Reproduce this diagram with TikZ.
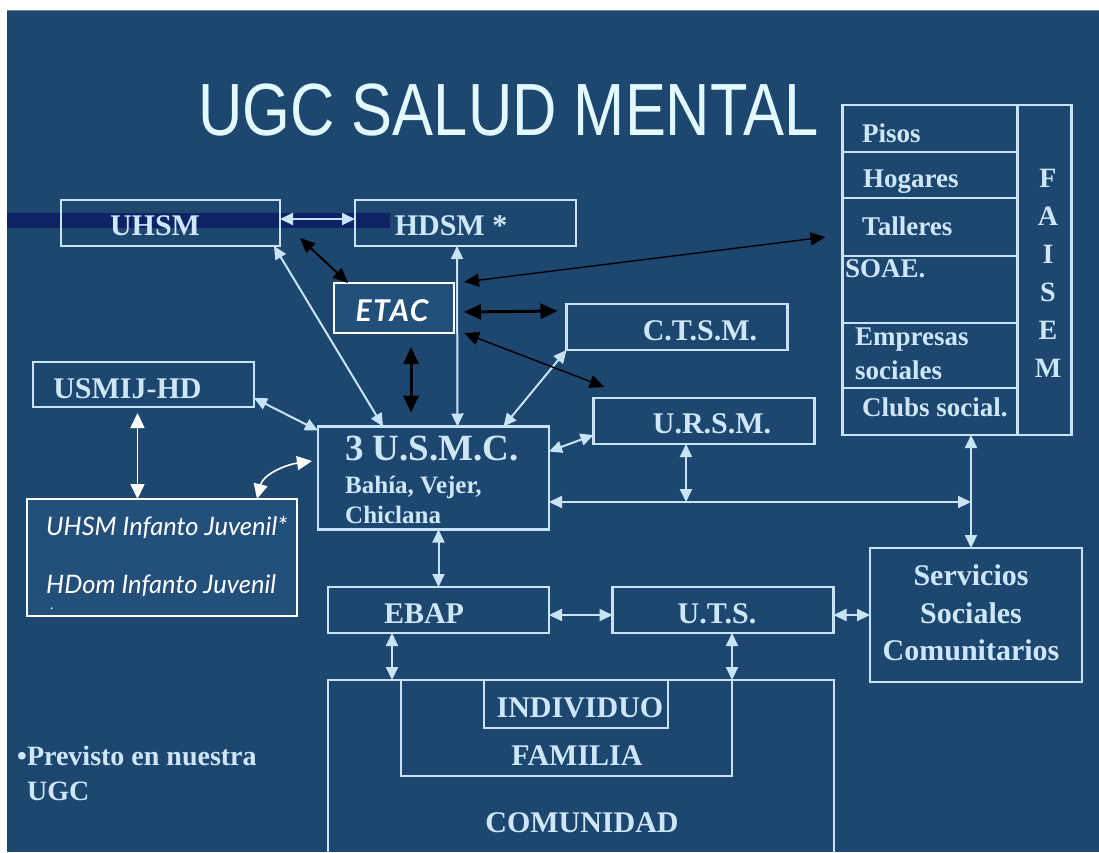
\documentclass[tikz,border=0pt]{standalone}
\usepackage{fontspec}
\setmainfont{Liberation Serif}
\newfontfamily\titlefont{Liberation Sans}[FakeStretch=0.83]
\newfontfamily\gillfont{Lato}
\usetikzlibrary{arrows.meta, positioning}

\definecolor{bgblue}{RGB}{30,71,112}
\definecolor{bandblue}{RGB}{14,34,102}
\definecolor{lineblue}{RGB}{198,228,246}
\definecolor{txtblue}{RGB}{205,231,248}
\definecolor{boxfill}{RGB}{35,79,123}
\definecolor{titlecol}{RGB}{226,250,255}

\begin{document}
\begin{tikzpicture}[x=1pt, y=-1pt,
    box/.style={draw=lineblue, line width=2.2pt, minimum width=221pt, minimum height=46pt, inner sep=0pt, outer sep=0pt},
    wbox/.style={draw=white, line width=1.4pt, fill=boxfill, inner sep=0pt, outer sep=0pt},
    lbl/.style={text=txtblue, font=\bfseries\fontsize{30}{36}\selectfont, inner sep=0pt, anchor=base},
    sml/.style={text=txtblue, font=\bfseries\fontsize{27}{30}\selectfont, inner sep=0pt, anchor=base west},
    ijtxt/.style={text=white, font=\gillfont\itshape\fontsize{25.5}{28}\selectfont, inner sep=0pt, anchor=base west},
    link/.style={draw=lineblue, line width=2pt, {Triangle[length=13pt,width=12pt]}-{Triangle[length=13pt,width=12pt]}},
    wlink/.style={draw=white, line width=1.6pt, {Triangle[length=15pt,width=14pt]}-{Triangle[length=15pt,width=14pt]}},
    blink/.style={draw=black, line width=3pt, {Triangle[length=17pt,width=15pt]}-{Triangle[length=17pt,width=15pt]}},
    tlink/.style={draw=black, line width=1.4pt, {Triangle[length=15pt,width=13pt]}-{Triangle[length=15pt,width=13pt]}},
  ]
  \clip (0,0) rectangle (1099,852);
  \fill[white] (0,0) rectangle (1099,852);
  \fill[bgblue] (7,10) rectangle (1099,852);
  \draw[gray, line width=1pt] (7,10.5) -- (1099,10.5);
  \fill[bandblue] (7,213) rectangle (390,228);

  % title
  \node[anchor=base, text=titlecol, font=\titlefont\fontsize{74}{80}\selectfont, inner sep=0pt] (title) at (508.5,135) {UGC SALUD MENTAL};

  % boxes
  \node[box, minimum width=219pt] (uhsm) at (170.5,223) {};
  \node[box] (hdsm) at (465.5,223) {};
  \node[wbox, minimum width=120pt, minimum height=50pt] (etac) at (394,308) {};
  \node[box] (ctsm) at (677,327) {};
  \node[box, minimum height=45pt] (usmij) at (143.5,384.5) {};
  \node[box] (ursm) at (704,421) {};
  \node[box, minimum width=231pt, minimum height=103pt] (usmc) at (433.5,478) {};
  \node[wbox, minimum width=270pt, minimum height=117pt] (uhsmij) at (162,557.5) {};
  \node[box] (ebap) at (438.5,610) {};
  \node[box] (uts) at (723,610) {};
  \node[box, minimum width=212pt, minimum height=134pt] (serv) at (976,615) {};
  \node[box, minimum width=506pt, minimum height=200pt, anchor=north west] (comun) at (328,680) {};
  \node[box, minimum width=331pt, minimum height=96pt, anchor=north west] (fam) at (401,680) {};
  \node[box, minimum width=184pt, minimum height=48pt, anchor=north west] (indiv) at (484,680) {};

  % FAISEM
  \node[box, minimum width=229pt, minimum height=330pt] (faisem) at (957,270) {};
  \node[box, minimum width=175pt, minimum height=47pt, anchor=north west] (pisos) at (842.5,105) {};
  \node[box, minimum width=175pt, minimum height=46pt, below=0pt of pisos] (hogares) {};
  \node[box, minimum width=175pt, minimum height=58pt, below=0pt of hogares] (talleres) {};
  \node[box, minimum width=175pt, minimum height=67pt, below=0pt of talleres] (soae) {};
  \node[box, minimum width=175pt, minimum height=65pt, below=0pt of soae] (empresas) {};
  \node[box, minimum width=175pt, minimum height=47pt, below=0pt of empresas] (clubs) {};

  % texts
  \node[lbl] (uhsmT) at (155,235) {UHSM};
  \node[lbl] (hdsmT) at (451,235) {HDSM *};
  \node[anchor=base, text=white, font=\gillfont\bfseries\itshape\fontsize{30}{32}\selectfont\addfontfeature{LetterSpace=5}, inner sep=0pt] (etacT) at (392,321) {ETAC};
  \node[lbl] (ctsmT) at (700,340) {C.T.S.M.};
  \node[lbl] (usmijT) at (127.5,398) {USMIJ-HD};
  \node[lbl] (ursmT) at (712,433) {U.R.S.M.};
  \node[sml, font=\bfseries\fontsize{37}{40}\selectfont] (usmcA) at (345,460) {3 U.S.M.C.};
  \node[sml, font=\bfseries\fontsize{25}{28}\selectfont] (usmcB) at (345,493) {Bahía, Vejer,};
  \node[sml, font=\bfseries\fontsize{25}{28}\selectfont] (usmcC) at (345,523) {Chiclana};
  \node[ijtxt] (ijA) at (46,535) {UHSM Infanto Juvenil*};
  \node[ijtxt] (ijB) at (46,593) {HDom Infanto Juvenil};
  \node[ijtxt, font=\gillfont\fontsize{14}{16}\selectfont] (ijC) at (50,609) {.};
  \node[lbl] (ebapT) at (424,623) {EBAP};
  \node[lbl] (utsT) at (717,623) {U.T.S.};
  \node[lbl] (servA) at (971,585) {Servicios};
  \node[lbl] (servB) at (971,623) {Sociales};
  \node[lbl] (servC) at (971,660) {Comunitarios};
  \node[lbl] (indivT) at (580,717) {INDIVIDUO};
  \node[lbl] (famT) at (577,765) {FAMILIA};
  \node[lbl] (comunT) at (582,832) {COMUNIDAD};
  \node[sml, font=\bfseries\fontsize{28}{30}\selectfont] (prevA) at (17,765) {•Previsto en nuestra};
  \node[sml, font=\bfseries\fontsize{28}{30}\selectfont] (prevB) at (27,800) {UGC};
  \node[sml] (pisosT) at (862,142) {Pisos};
  \node[sml] (hogaresT) at (863,187) {Hogares};
  \node[sml] (talleresT) at (862,235) {Talleres};
  \node[sml] (soaeT) at (845,277) {SOAE.};
  \node[sml] (empresasA) at (855,345) {Empresas};
  \node[sml] (empresasB) at (855,379) {sociales};
  \node[sml] (clubsT) at (862,416) {Clubs social.};
  \foreach \ch [count=\i from 0] in {F,A,I,S,E,M}
    \node[lbl, font=\bfseries\fontsize{28}{30}\selectfont] (faisem\ch) at (1048,187+38*\i) {\ch};

  % light links
  \draw[link] ([yshift=4pt]uhsm.east) -- ([yshift=4pt]hdsm.west);
  \draw[link] ([xshift=-6pt]uhsm.south east) -- ([xshift=65pt]usmc.north west);
  \draw[link] ([xshift=-8.5pt]hdsm.south) -- ([xshift=24pt]usmc.north);
  \draw[link] ([yshift=-13.5pt]usmij.east) -- ([yshift=-4pt]usmc.north west);
  \draw[link] (ctsm.south west) -- ([xshift=70pt]usmc.north);
  \draw[link] ([yshift=-14pt]ursm.west) -- ([yshift=-25pt]usmc.north east);
  \coordinate (jn) at (686,502);
  \coordinate (jr) at (971,502);
  \draw[link] ([xshift=-18pt]ursm.south) -- (jn);
  \draw[link] ([yshift=-24pt]usmc.east) -- (jr);
  \draw[link] ([xshift=14pt]faisem.south) -- ([xshift=-5pt]serv.north);
  \draw[link] ([xshift=5pt]usmc.south) -- (ebap.north);
  \draw[link] ([yshift=-5pt]ebap.east) -- ([yshift=-5pt]uts.west);
  \draw[link] ([yshift=-5pt]uts.east) -- (serv.west);
  \draw[link] ([xshift=-46.5pt]ebap.south) -- ([xshift=64pt]comun.north west);
  \draw[link] ([xshift=9pt]uts.south) -- ([xshift=-102pt]comun.north east);

  % white links
  \draw[wlink] ([xshift=-6pt,yshift=-6pt]usmij.south) -- ([xshift=-24.5pt]uhsmij.north);
  \draw[wlink] ([xshift=95pt]uhsmij.north) .. controls +(6,-24) and +(-28,4) .. ([xshift=-6pt,yshift=17pt]usmc.west);

  % black links
  \draw[tlink, line width=2pt] ([xshift=20pt,yshift=8pt]uhsm.south east) -- ([xshift=14pt]etac.north west);
  \draw[blink] ([xshift=10pt,yshift=-4pt]etac.east) -- ([xshift=-9pt,yshift=16pt]ctsm.west);
  \draw[blink] ([xshift=17pt,yshift=-14pt]etac.south) -- ([xshift=-22.5pt,yshift=14pt]usmc.north);
  \draw[tlink] ([xshift=10pt]etac.south east) -- ([xshift=11pt,yshift=11pt]ursm.north west);
  \draw[tlink] ([xshift=-17pt,yshift=-10pt]talleres.west) -- ([xshift=10pt,yshift=1pt]etac.north east);
\end{tikzpicture}
\end{document}
